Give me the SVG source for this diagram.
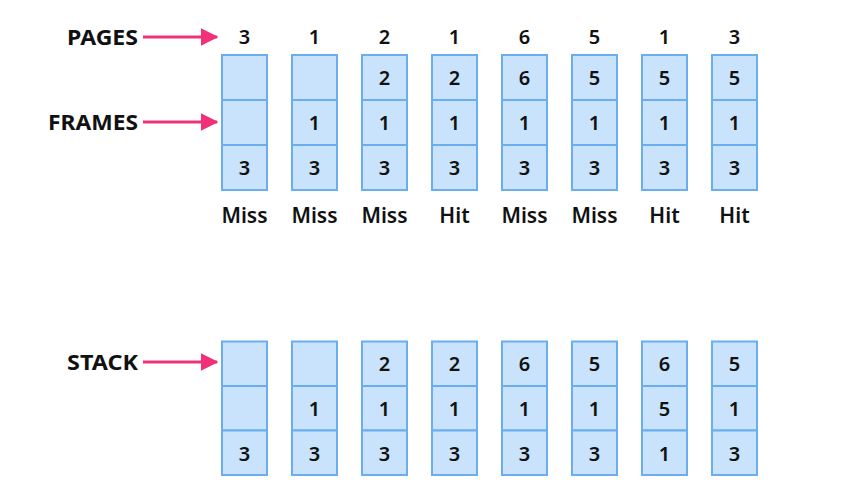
<svg xmlns="http://www.w3.org/2000/svg" width="843" height="492" viewBox="0 0 843 492">
<style>
.c{fill:#c8e3fb;stroke:#6aaef0;stroke-width:2}
.n{font-family:"Noto Sans","Open Sans",sans-serif;font-size:20px;font-weight:600;fill:#111;text-anchor:middle}
.l{font-family:"Noto Sans","Open Sans",sans-serif;font-size:21px;font-weight:700;fill:#111;text-anchor:end}
.r{font-family:"Noto Sans","Open Sans",sans-serif;font-size:21px;font-weight:600;fill:#111;text-anchor:middle}
.a{stroke:#f0317a;stroke-width:3;fill:none}
</style>
<defs>
<marker id="ah" markerWidth="6" markerHeight="6" refX="5.5" refY="3" orient="auto" markerUnits="strokeWidth" viewBox="0 0 6 6">
<path d="M0,0 L6,3 L0,6 Z" fill="#f0317a"/>
</marker>
<g id="col">
<rect class="c" x="0" y="0" width="45" height="45"/>
<rect class="c" x="0" y="45" width="45" height="45"/>
<rect class="c" x="0" y="90" width="45" height="45"/>
</g>
<g id="scol">
<rect class="c" x="0" y="0" width="45" height="44.5"/>
<rect class="c" x="0" y="44.5" width="45" height="44.5"/>
<rect class="c" x="0" y="89" width="45" height="44.5"/>
</g>
</defs>
<rect width="843" height="492" fill="#fff"/>
<g id="labels">
<text class="l" x="138" y="44.5" textLength="71" lengthAdjust="spacingAndGlyphs">PAGES</text>
<text class="l" x="138" y="129.5" textLength="90" lengthAdjust="spacingAndGlyphs">FRAMES</text>
<text class="l" x="138" y="369.5" textLength="71" lengthAdjust="spacingAndGlyphs">STACK</text>
</g>
<g id="connectors">
<line class="a" x1="143" y1="37" x2="217" y2="37" marker-end="url(#ah)"/>
<line class="a" x1="143" y1="122" x2="217" y2="122" marker-end="url(#ah)"/>
<line class="a" x1="143" y1="362" x2="217" y2="362" marker-end="url(#ah)"/>
</g>
<g id="pages">
<text class="n" x="244.5" y="44">3</text>
<text class="n" x="314.5" y="44">1</text>
<text class="n" x="384.5" y="44">2</text>
<text class="n" x="454.5" y="44">1</text>
<text class="n" x="524.5" y="44">6</text>
<text class="n" x="594.5" y="44">5</text>
<text class="n" x="664.5" y="44">1</text>
<text class="n" x="734.5" y="44">3</text>
</g>
<g id="frames">
<use href="#col" x="222" y="55"/>
<use href="#col" x="292" y="55"/>
<use href="#col" x="362" y="55"/>
<use href="#col" x="432" y="55"/>
<use href="#col" x="502" y="55"/>
<use href="#col" x="572" y="55"/>
<use href="#col" x="642" y="55"/>
<use href="#col" x="712" y="55"/>
<text class="n" x="244.5" y="174.5">3</text>
<text class="n" x="314.5" y="129.5">1</text><text class="n" x="314.5" y="174.5">3</text>
<text class="n" x="384.5" y="84.5">2</text><text class="n" x="384.5" y="129.5">1</text><text class="n" x="384.5" y="174.5">3</text>
<text class="n" x="454.5" y="84.5">2</text><text class="n" x="454.5" y="129.5">1</text><text class="n" x="454.5" y="174.5">3</text>
<text class="n" x="524.5" y="84.5">6</text><text class="n" x="524.5" y="129.5">1</text><text class="n" x="524.5" y="174.5">3</text>
<text class="n" x="594.5" y="84.5">5</text><text class="n" x="594.5" y="129.5">1</text><text class="n" x="594.5" y="174.5">3</text>
<text class="n" x="664.5" y="84.5">5</text><text class="n" x="664.5" y="129.5">1</text><text class="n" x="664.5" y="174.5">3</text>
<text class="n" x="734.5" y="84.5">5</text><text class="n" x="734.5" y="129.5">1</text><text class="n" x="734.5" y="174.5">3</text>
</g>
<g id="results">
<text class="r" x="244.5" y="222.5">Miss</text>
<text class="r" x="314.5" y="222.5">Miss</text>
<text class="r" x="384.5" y="222.5">Miss</text>
<text class="r" x="454.5" y="222.5">Hit</text>
<text class="r" x="524.5" y="222.5">Miss</text>
<text class="r" x="594.5" y="222.5">Miss</text>
<text class="r" x="664.5" y="222.5">Hit</text>
<text class="r" x="734.5" y="222.5">Hit</text>
</g>
<g id="stack">
<use href="#scol" x="222" y="341.5"/>
<use href="#scol" x="292" y="341.5"/>
<use href="#scol" x="362" y="341.5"/>
<use href="#scol" x="432" y="341.5"/>
<use href="#scol" x="502" y="341.5"/>
<use href="#scol" x="572" y="341.5"/>
<use href="#scol" x="642" y="341.5"/>
<use href="#scol" x="712" y="341.5"/>
<text class="n" x="244.5" y="460.5">3</text>
<text class="n" x="314.5" y="415.5">1</text><text class="n" x="314.5" y="460.5">3</text>
<text class="n" x="384.5" y="370.5">2</text><text class="n" x="384.5" y="415.5">1</text><text class="n" x="384.5" y="460.5">3</text>
<text class="n" x="454.5" y="370.5">2</text><text class="n" x="454.5" y="415.5">1</text><text class="n" x="454.5" y="460.5">3</text>
<text class="n" x="524.5" y="370.5">6</text><text class="n" x="524.5" y="415.5">1</text><text class="n" x="524.5" y="460.5">3</text>
<text class="n" x="594.5" y="370.5">5</text><text class="n" x="594.5" y="415.5">1</text><text class="n" x="594.5" y="460.5">3</text>
<text class="n" x="664.5" y="370.5">6</text><text class="n" x="664.5" y="415.5">5</text><text class="n" x="664.5" y="460.5">1</text>
<text class="n" x="734.5" y="370.5">5</text><text class="n" x="734.5" y="415.5">1</text><text class="n" x="734.5" y="460.5">3</text>
</g>
</svg>
